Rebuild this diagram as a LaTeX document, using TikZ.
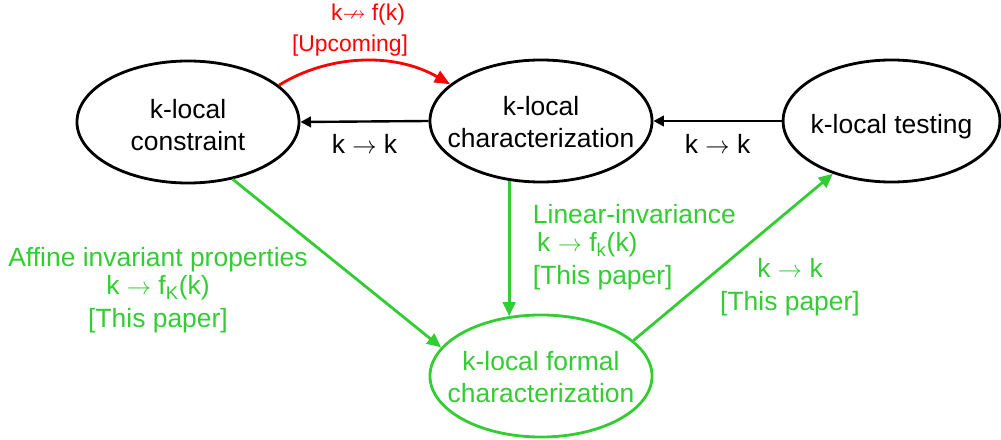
\documentclass[tikz,border=0pt]{standalone}
\usepackage{amsmath,amssymb}
\usepackage{fontspec}
\setmainfont{Liberation Sans}
\usepackage{xcolor}
\usetikzlibrary{positioning,arrows.meta,shapes.geometric}

\definecolor{paperGreen}{RGB}{51,204,51}

\tikzset{
  bubble/.style={ellipse, draw, line width=2pt, inner sep=0pt,
    minimum width=5.55cm, minimum height=3.05cm},
  blackArr/.style={-{Triangle[length=7.5pt, width=7.5pt]}, line width=1.7pt},
  greenArr/.style={-{Triangle[length=10pt, width=9pt]}, line width=2pt, paperGreen},
  redArr/.style={-{Triangle[length=11pt, width=9pt]}, line width=2pt, red},
  greenTxt/.style={text=paperGreen, font=\fontsize{18.8}{20}\selectfont},
  redTxt/.style={text=red, font=\fontsize{16.3}{19}\selectfont},
}

\begin{document}
\begin{tikzpicture}[x=0.025cm, y=-0.025cm, font=\fontsize{18.8}{22.8}\selectfont]
  \useasboundingbox (0,0) rectangle (1001,440);

  % Ellipses
  \node[bubble, label={[align=center, yshift=-2pt]center:k-local\\constraint}] (lc) at (188,122) {};
  \node[bubble, label={[align=center, yshift=-1pt]center:k-local\\characterization}] (mc) at (541,121) {};
  \node[bubble, minimum width=5.42cm,
    label={[text depth=0pt, yshift=-2pt]center:k-local testing}] (tc) at (891.5,121) {};
  \node[bubble, draw=paperGreen,
    label={[align=center, text=paperGreen, yshift=-1pt]center:k-local formal\\characterization}] (fc) at (541,376) {};

  % Black arrows, k -> k
  \draw[blackArr] (mc.west) -- node[below=5pt] (kkLeft) {k $\rightarrow$ k} (lc.east);
  \draw[blackArr] (tc.west) -- node[below=5pt] (kkRight) {k $\rightarrow$ k} (mc.east);

  % Upcoming (red)
  \draw[redArr] (lc.22) .. controls +(48,-30) and +(-57,-33) .. (mc.158);
  \node[redTxt] (upTop) at (368,15) {k$\nrightarrow$ f(k)};
  \node[redTxt] (upBot) at (350,46) {[Upcoming]};

  % This paper (green)
  \draw[greenArr] (lc.-52) -- (fc.164);
  \draw[greenArr] (mc.-118) -- (fc.118);
  \draw[greenArr] (fc.21) -- (tc.-138);

  \node[greenTxt, align=center] (affLab) at (158,290)
    {Affine invariant properties\\k $\rightarrow$ f\textsubscript{K}(k)\\[3pt]{[This paper]}};
  \node[greenTxt, align=left, anchor=west] (linLab) at (528,247)
    {Linear-invariance\\\hspace{3pt}k $\rightarrow$ f\textsubscript{k}(k)\\[3pt]{[This paper]}};
  \node[greenTxt, align=center] (testLab) at (790,287)
    {k $\rightarrow$ k\\[3pt]{[This paper]}};

\end{tikzpicture}
\end{document}
